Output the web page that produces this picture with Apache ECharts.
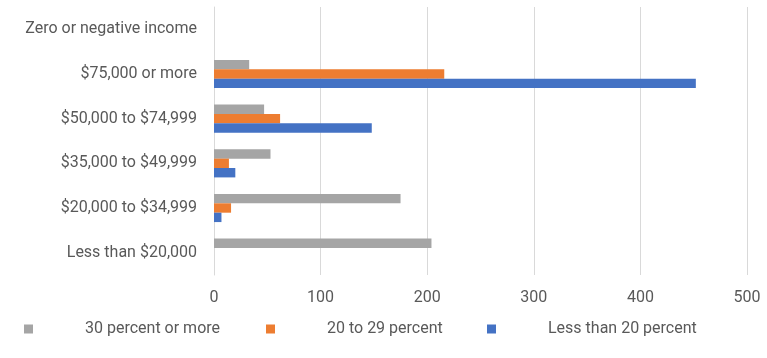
<!DOCTYPE html>
<html>
<head>
<meta charset="utf-8">
<script src="https://cdn.jsdelivr.net/npm/echarts@6/dist/echarts.min.js"></script>
<style>
  html, body { margin: 0; padding: 0; background: #fff; }
  #chart { width: 767px; height: 358px; }
</style>
</head>
<body>
<div id="chart"></div>
<script>
// categories, bottom to top
const incomeBands = ['Less than $20,000', '$20,000 to $34,999', '$35,000 to $49,999', '$50,000 to $74,999', '$75,000 or more', 'Zero or negative income']
const seriesNames = ['30 percent or more', '20 to 29 percent', 'Less than 20 percent']
const thirtyOrMore = [204, 175, 53, 47, 33, 0]
const twentyTo29 = [0, 16, 14, 62, 216, 0]
const lessThan20 = [0, 7, 20, 148, 452, 0]
const xTicks = [0, 100, 200, 300, 400, 500]

const colors = ['#A5A5A5', '#ED7D31', '#4472C4']
const fontFamily = 'Roboto, "Noto Sans", sans-serif'
const fontSize = 16

const chart = echarts.init(document.getElementById('chart'))

const legendPos = [19, 261, 482]
const legends = seriesNames.map((name, i) => ({
  data: [name],
  left: legendPos[i],
  top: 316,
  icon: 'rect',
  itemWidth: 9,
  itemHeight: 9,
  selectedMode: false,
  textStyle: {
    color: '#595959',
    fontSize,
    fontFamily,
    rich: { g: { width: 47 }, t: { color: '#595959', fontSize, fontFamily } }
  },
  formatter: n => '{g| }{t|' + n + '}'
}))

const data = [thirtyOrMore, twentyTo29, lessThan20]

chart.setOption({
  animation: false,
  color: colors,
  textStyle: { fontFamily },
  legend: legends,
  grid: { left: 214, right: 20, top: 7, bottom: 83 },
  xAxis: {
    type: 'value',
    min: xTicks[0],
    max: xTicks[xTicks.length - 1],
    interval: 100,
    axisLine: { show: false },
    axisTick: { show: false },
    axisLabel: { color: '#595959', fontSize, margin: 15 },
    splitLine: { lineStyle: { color: '#D9D9D9', width: 1 } }
  },
  yAxis: {
    type: 'category',
    data: incomeBands,
    axisLine: { show: true, lineStyle: { color: '#D9D9D9' } },
    axisTick: { show: false },
    axisLabel: { color: '#595959', fontSize, margin: 17 }
  },
  series: seriesNames.map((name, i) => ({
    name,
    type: 'bar',
    data: data[i],
    barGap: '0%',
    barCategoryGap: '37%'
  }))
})
</script>
</body>
</html>
